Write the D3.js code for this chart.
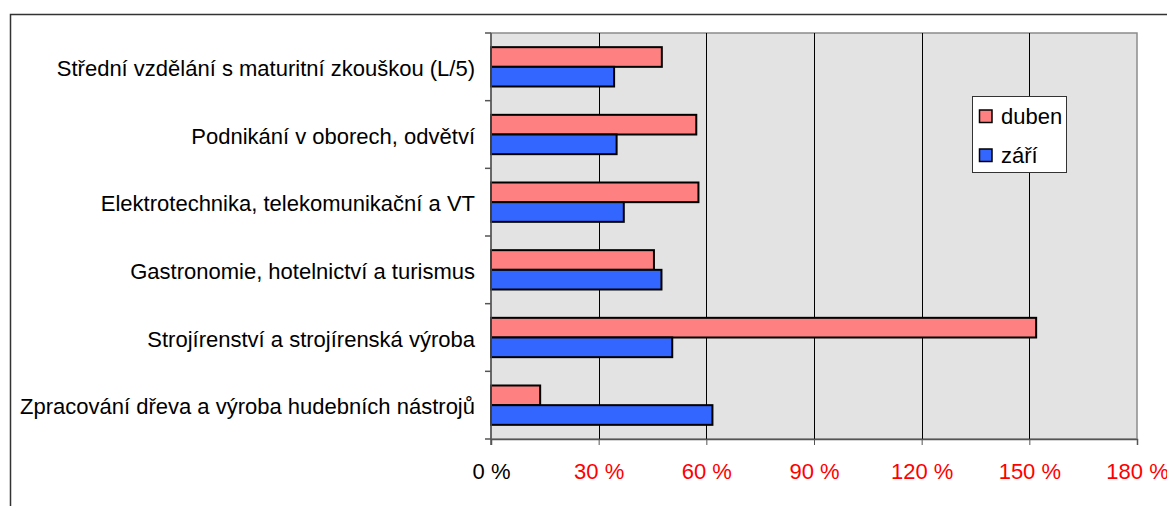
<!DOCTYPE html>
<html>
<head>
<meta charset="utf-8">
<script src="https://cdn.jsdelivr.net/npm/d3@7"></script>
<style>
  body { margin: 0; background: #fff; }
  svg { display: block; font-family: "Liberation Sans", Arial, sans-serif; }
</style>
</head>
<body>
<svg width="1167" height="506"></svg>
<script>
// categories top to bottom
var categories = [
  "Střední vzdělání s maturitní zkouškou (L/5)",
  "Podnikání v oborech, odvětví",
  "Elektrotechnika, telekomunikační a VT",
  "Gastronomie, hotelnictví a turismus",
  "Strojírenství a strojírenská výroba",
  "Zpracování dřeva a výroba hudebních nástrojů"
];
var seriesNames = ["duben", "září"];
var duben = [47.6, 57.2, 57.8, 45.4, 151.9, 13.7];
var zari = [34.3, 35.0, 37.0, 47.5, 50.5, 61.7];
var tickValues = [0, 30, 60, 90, 120, 150, 180];

var colors = { "duben": "#ff8080", "září": "#3366ff" };

var svg = d3.select("svg");
// note: "top" is taken by window.top, so plot edges get their own names
var plotL = 491, plotR = 1137, plotT = 33, plotB = 439;

// outer frame (runs off the right and bottom edge)
svg.append("rect")
    .attr("x", 10.5).attr("y", 14.5)
    .attr("width", 1200).attr("height", 600)
    .attr("fill", "#fff").attr("stroke", "#333").attr("stroke-width", 1.5);

var x = d3.scaleLinear().domain([0, 180]).range([plotL, plotR]);
var y = d3.scaleBand().domain(categories).range([plotT, plotB]);
var inner = d3.scaleBand().domain(seriesNames).range([0, y.bandwidth()]).paddingOuter(0.72).paddingInner(0);

// plot background
svg.append("rect")
    .attr("x", plotL).attr("y", plotT)
    .attr("width", plotR - plotL).attr("height", plotB - plotT)
    .attr("fill", "#e3e3e3").attr("stroke", "#8c8c8c").attr("stroke-width", 1.5);

// gridlines
svg.append("g").selectAll("line")
    .data(tickValues.slice(1, -1))
    .enter().append("line")
    .attr("x1", function(d) { return Math.round(x(d)) + 0.5; })
    .attr("x2", function(d) { return Math.round(x(d)) + 0.5; })
    .attr("y1", plotT).attr("y2", plotB)
    .attr("stroke", "#000").attr("stroke-width", 1);

// bars
var rows = categories.map(function(c, i) {
  return [{ cat: c, s: "duben", v: duben[i] }, { cat: c, s: "září", v: zari[i] }];
});
svg.append("g").selectAll("g")
    .data(rows)
    .enter().append("g")
    .attr("transform", function(d) { return "translate(0," + y(d[0].cat) + ")"; })
    .selectAll("rect")
    .data(function(d) { return d; })
    .enter().append("rect")
    .attr("x", x(0))
    .attr("y", function(d) { return inner(d.s); })
    .attr("width", function(d) { return x(d.v) - x(0); })
    .attr("height", inner.bandwidth())
    .attr("fill", function(d) { return colors[d.s]; })
    .attr("stroke", "#000").attr("stroke-width", 2);

// y axis
var yAxis = svg.append("g")
    .attr("transform", "translate(" + plotL + ",0)");
yAxis.append("line")
    .attr("x1", 0).attr("x2", 0).attr("y1", plotT).attr("y2", plotB + 6)
    .attr("stroke", "#555").attr("stroke-width", 1.5);
yAxis.selectAll(".tk")
    .data(d3.range(categories.length + 1))
    .enter().append("line")
    .attr("x1", -6).attr("x2", 0)
    .attr("y1", function(i) { return plotT + i * y.step(); })
    .attr("y2", function(i) { return plotT + i * y.step(); })
    .attr("stroke", "#555").attr("stroke-width", 1.5);
yAxis.selectAll("text")
    .data(categories)
    .enter().append("text")
    .attr("x", -16)
    .attr("y", function(d) { return y(d) + y.bandwidth() / 2; })
    .attr("dy", "0.41em")
    .attr("text-anchor", "end")
    .attr("font-size", 22)
    .attr("fill", "#000")
    .text(function(d) { return d; });

// x axis
var xAxis = svg.append("g")
    .attr("transform", "translate(0," + plotB + ")")
    .call(d3.axisBottom(x).tickValues(tickValues).tickSize(6).tickPadding(18)
      .tickFormat(function(d) { return d + " %"; }));
xAxis.select(".domain").attr("stroke", "#555").attr("stroke-width", 1.5);
xAxis.selectAll(".tick line").attr("stroke", "#555");
xAxis.selectAll(".tick text")
    .attr("font-size", 22)
    .attr("font-family", "Liberation Sans, Arial, sans-serif")
    .attr("fill", function(d) { return d === 0 ? "#000" : "#ff0000"; });

// legend
var lg = svg.append("g").attr("transform", "translate(972,96)");
lg.append("rect")
    .attr("x", 0.5).attr("y", 0.5).attr("width", 94).attr("height", 76)
    .attr("fill", "#fff").attr("stroke", "#333").attr("stroke-width", 1);
var item = lg.selectAll(".it")
    .data(seriesNames)
    .enter().append("g")
    .attr("transform", function(d, i) { return "translate(7," + (20 + i * 39) + ")"; });
item.append("rect")
    .attr("x", 0.5).attr("y", -6).attr("width", 12.5).attr("height", 12.5)
    .attr("fill", function(d) { return colors[d]; })
    .attr("stroke", "#000").attr("stroke-width", 1.5);
item.append("text")
    .attr("x", 22).attr("dy", "0.36em")
    .attr("font-size", 22)
    .text(function(d) { return d; });
</script>
</body>
</html>
